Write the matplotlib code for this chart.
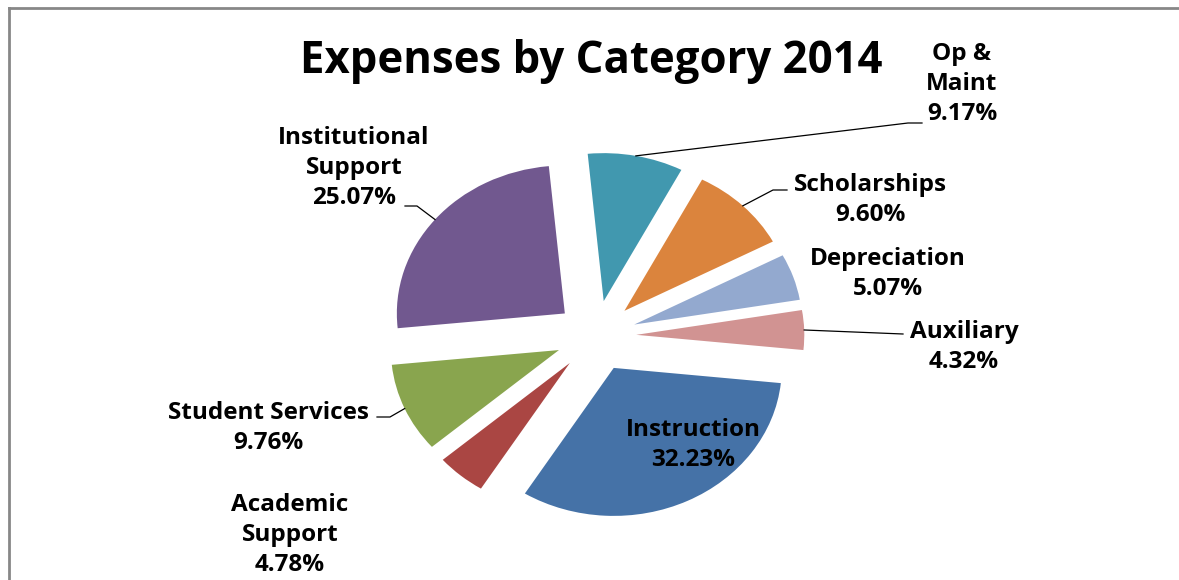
import numpy as np
import matplotlib
matplotlib.use('Agg')
import matplotlib.pyplot as plt

# data (Excel order: first slice is Instruction)
categories = ['Instruction', 'Academic\nSupport', 'Student Services', 'Institutional\nSupport',
              'Op &\nMaint', 'Scholarships', 'Depreciation', 'Auxiliary']
shares = [32.23, 4.78, 9.76, 25.07, 9.17, 9.60, 5.07, 4.32]
colors = ['#4572A7', '#AA4643', '#89A54E', '#71588F', '#4198AF', '#DB843D', '#93A9CF', '#D19392']

# label layout in pixels (center of text block), and leader elbow/end points
label_xy = [(693, 445), (290, 535), (268, 428), (354, 168), (962, 84), (870, 200), (888, 274), (964, 347)]
leaders = [None, None, [(390, 417), (377, 417)], [(417, 206), (405, 206)],
           [(908, 123), (922, 123)], [(773, 190), (787, 190)], None, [(903, 334)]]

W, H = 1179, 580
cx, cy = 596, 336      # pie centre, pixels from top-left
rx, ry = 168, 148      # squashed radius -> tilted look

plt.rcParams['font.family'] = ['Open Sans', 'DejaVu Sans']

fig = plt.figure(figsize=(W / 100, H / 100), dpi=100)
ax = fig.add_axes([0, 0, 1, 1])

wedges, _ = ax.pie(shares, colors=colors, startangle=-5.9, counterclock=False,
                   explode=[0.24] * len(shares), wedgeprops=dict(linewidth=0))
ax.set_aspect('auto')
ax.set_xlim(-cx / rx, (W - cx) / rx)
ax.set_ylim(-(H - cy) / ry, cy / ry)
ax.axis('off')


def px(x, y):
    return (x - cx) / rx, (cy - y) / ry


for w, name, val, pos, lead in zip(wedges, categories, shares, label_xy, leaders):
    tx, ty = px(*pos)
    ax.text(tx, ty, '%s\n%.2f%%' % (name, val), ha='center', va='center',
            fontsize=17.5, fontweight='bold', linespacing=1.33, color='black')
    if lead:
        mid = np.deg2rad((w.theta1 + w.theta2) / 2)
        x0 = w.center[0] + w.r * np.cos(mid)
        y0 = w.center[1] + w.r * np.sin(mid)
        pts = [(x0, y0)] + [px(*p) for p in lead]
        ax.plot([p[0] for p in pts], [p[1] for p in pts], color='black', lw=0.9)

fig.text(591 / W, 1 - 73 / H, 'Expenses by Category 2014', ha='center', va='baseline',
         fontsize=31.5, fontweight='bold')

# chart frame (only top and left edges are inside the picture)
fig.add_artist(plt.Line2D([9.5 / W, 9.5 / W], [0, 1 - 7.5 / H], color='#878787', lw=2, transform=fig.transFigure))
fig.add_artist(plt.Line2D([9.5 / W, 1], [1 - 7.5 / H, 1 - 7.5 / H], color='#878787', lw=2, transform=fig.transFigure))

fig.savefig('out.png', dpi=100)
